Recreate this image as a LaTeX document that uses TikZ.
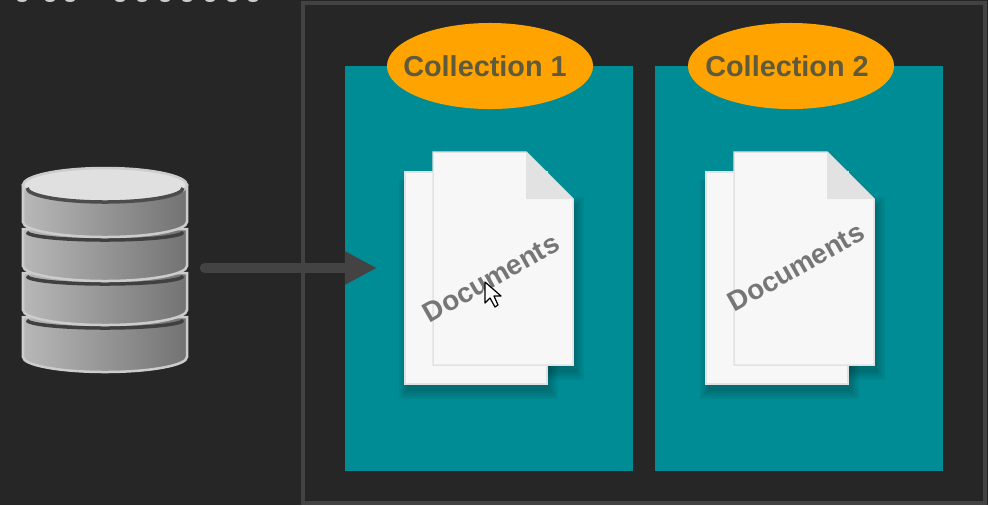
\documentclass[tikz,border=0pt]{standalone}
\usepackage{fontspec}
\setmainfont{Liberation Sans}
\usetikzlibrary{arrows.meta,shapes.geometric}
\definecolor{bgdark}{HTML}{262626}
\definecolor{framegray}{HTML}{434343}
\definecolor{collteal}{HTML}{008C94}
\definecolor{labelorange}{HTML}{FFA300}
\definecolor{labeltext}{HTML}{5F5A3C}
\definecolor{docwhite}{HTML}{F7F7F8}
\definecolor{docfold}{HTML}{E2E2E3}
\definecolor{doctext}{HTML}{767676}
\tikzset{
  coll/.style={fill=collteal,draw=none,minimum width=2.88cm,minimum height=4.04cm,inner sep=0pt,anchor=north west},
  collbadge/.style={ellipse,fill=labelorange,minimum width=2.06cm,minimum height=0.86cm,inner sep=0pt},
  colllabel/.style={inner sep=0pt,text=labeltext,font=\bfseries\fontsize{8.2pt}{9pt}\selectfont},
  doclabel/.style={rotate=29.5,text=doctext,inner sep=0pt,font=\bfseries\fontsize{7.9pt}{9pt}\selectfont},
  docsheet/.style={fill=docwhite,draw=docfold,line width=0.015cm},
  sheetshadow/.style={fill=black,opacity=0.045,draw=none},
  platter/.style={draw=white!80!black,line width=0.025cm,left color=black!28,right color=black!55},
  platterline/.style={draw=black!75,line width=0.035cm}
}
\begin{document}
\begin{tikzpicture}[x=0.01cm,y=-0.01cm]
  \useasboundingbox (0,0) rectangle (988,505);
  \fill[bgdark] (0,0) rectangle (988,505);
  % cut-off line of text at the top edge
  \foreach \xx in {22,50,70,120,142,165,187,210,232,253} {
    \fill[white!80!black] (\xx,0) ellipse[x radius=5,y radius=-2];
  }
  \draw[framegray,line width=0.04cm] (303,3) rectangle (985,503);
  \node[coll] (coll1) at (344.6,65.6) {};
  \node[coll] (coll2) at (654.6,65.6) {};
  \node[collbadge] (badge1) at (490,66) {};
  \node[collbadge] (badge2) at (791,66) {};
  \node[colllabel] (label1) at (485,66) {Collection 1};
  \node[colllabel] (label2) at (787,66) {Collection 2};
  % documents
  \foreach \dx in {0,301} {
    \begin{scope}[xshift=\dx*0.01cm]
      \foreach \s in {2,4,6,8,10} {
        \fill[sheetshadow] (405-\s+4,172+8) rectangle (547+\s+1,384+\s+5);
        \fill[sheetshadow] (526,199-\s+8) -- (573+\s+1,199-\s+8) -- (573+\s+1,365+\s+5) -- (526,365+\s+5) -- cycle;
      }
      \draw[docsheet] (405,172) rectangle (547,384);
      \draw[docsheet] (433,152) -- (526,152) -- (573,199) -- (573,365) -- (433,365) -- cycle;
      \fill[docfold] (526,152) -- (573,199) -- (526,199) -- cycle;
    \end{scope}
  }
  \node[doclabel] (text1) at (491,278) {Documents};
  \node[doclabel] (text2) at (796,267) {Documents};
  % pointer
  \draw[fill=white,draw=black,line width=0.012cm,line join=round] (485,282) -- (485,303) -- (490,298) -- (495,307) -- (498,305) -- (494,296) -- (501,296) -- cycle;
  % database
  \node[inner sep=0pt,minimum size=0pt] (db) at (191,268) {};
  \foreach \yy/\hh in {317/40,273/37,229/37,185/37} {
    \path[platter] (23,\yy) -- (23,\yy+\hh) arc[start angle=180,end angle=360,x radius=82,y radius=-15] -- (187,\yy) -- cycle;
    \draw[platterline] (27,\yy+3) arc[start angle=180,end angle=360,x radius=78,y radius=-8];
  }
  \fill[black!12,draw=white!80!black,line width=0.025cm] (105,185) ellipse[x radius=82,y radius=-17];
  \draw[platterline,draw=black!70] (27,188) arc[start angle=180,end angle=360,x radius=78,y radius=-14];
  % arrow
  \coordinate (arrowend) at (377,268);
  \draw[framegray,line width=0.1cm,line cap=round,-{Triangle[length=0.32cm,width=0.31cm]}] ([xshift=0.13cm]db.east) -- (arrowend);
\end{tikzpicture}
\end{document}
